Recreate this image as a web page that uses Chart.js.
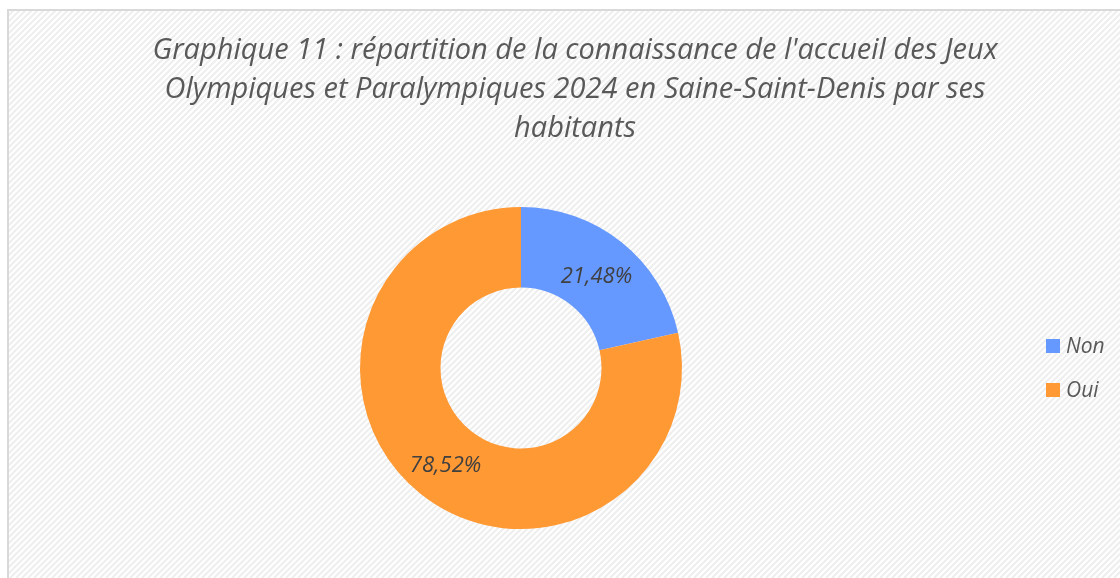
<!DOCTYPE html>
<html>
<head>
<meta charset="utf-8">
<script src="https://cdn.jsdelivr.net/npm/chart.js@4/dist/chart.umd.min.js"></script>
<style>
  html, body { margin: 0; padding: 0; background: #fff; }
  #wrap { width: 1120px; height: 578px; position: relative; }
</style>
</head>
<body>
<div id="wrap"><canvas id="donut" width="1120" height="578"></canvas></div>
<script>
// ---- Data ----
const categories = ['Non', 'Oui'];
const shares     = [21.48, 78.52];
const colors     = ['#6699FF', '#FF9933'];
const titleLines = [
  "Graphique 11 : répartition de la connaissance de l'accueil des Jeux",
  "Olympiques et Paralympiques 2024 en Saine-Saint-Denis par ses",
  "habitants"
];

const FONT = '"Open Sans", "Noto Sans", sans-serif';

// ---- Background: frame + diagonal hatch ----
const hatchBg = {
  id: 'hatchBg',
  beforeDraw(chart) {
    const c = chart.ctx;
    const W = chart.width, H = chart.height;
    c.save();
    c.fillStyle = '#ffffff';
    c.fillRect(0, 0, W, H);
    c.beginPath();
    c.rect(9, 11, W, H);
    c.clip();
    c.strokeStyle = '#eeeeee';
    c.lineWidth = 2;
    for (let k = -H; k < W + H; k += 6) {
      c.beginPath();
      c.moveTo(k, H);
      c.lineTo(k + H, 0);
      c.stroke();
    }
    c.restore();
    c.save();
    c.strokeStyle = '#d9d9d9';
    c.lineWidth = 2;
    c.beginPath();
    c.moveTo(8, H + 2);
    c.lineTo(8, 10);
    c.lineTo(W + 2, 10);
    c.stroke();
    c.restore();
  }
};

// ---- Title, labels, legend ----
const decorations = {
  id: 'decorations',
  afterDraw(chart) {
    const c = chart.ctx;
    c.save();
    // title
    c.fillStyle = '#595959';
    c.font = 'italic 29px ' + FONT;
    c.textAlign = 'center';
    c.textBaseline = 'middle';
    titleLines.forEach((t, i) => c.fillText(t, 575, 51 + i * 39));

    // slice labels
    const meta = chart.getDatasetMeta(0);
    c.fillStyle = '#404040';
    c.font = 'italic 22px ' + FONT;
    meta.data.forEach((arc, i) => {
      const p = arc.tooltipPosition();
      c.fillText(shares[i].toFixed(2).replace('.', ',') + '%', p.x, p.y + 3);
    });

    // legend
    c.textAlign = 'left';
    c.font = 'italic 21px ' + FONT;
    categories.forEach((name, i) => {
      const y = 346 + i * 44;
      c.fillStyle = colors[i];
      c.fillRect(1046, y - 7, 14, 14);
      c.fillStyle = '#595959';
      c.fillText(name, 1066, y + 1);
    });
    c.restore();
  }
};

new Chart(document.getElementById('donut'), {
  type: 'doughnut',
  data: {
    labels: categories,
    datasets: [{
      data: shares,
      backgroundColor: colors,
      borderWidth: 0
    }]
  },
  options: {
    responsive: false,
    animation: false,
    cutout: '50%',
    layout: { padding: { left: 360, right: 438, top: 207, bottom: 49 } },
    plugins: {
      legend: { display: false },
      title: { display: false },
      tooltip: { enabled: false }
    }
  },
  plugins: [hatchBg, decorations]
});
</script>
</body>
</html>
